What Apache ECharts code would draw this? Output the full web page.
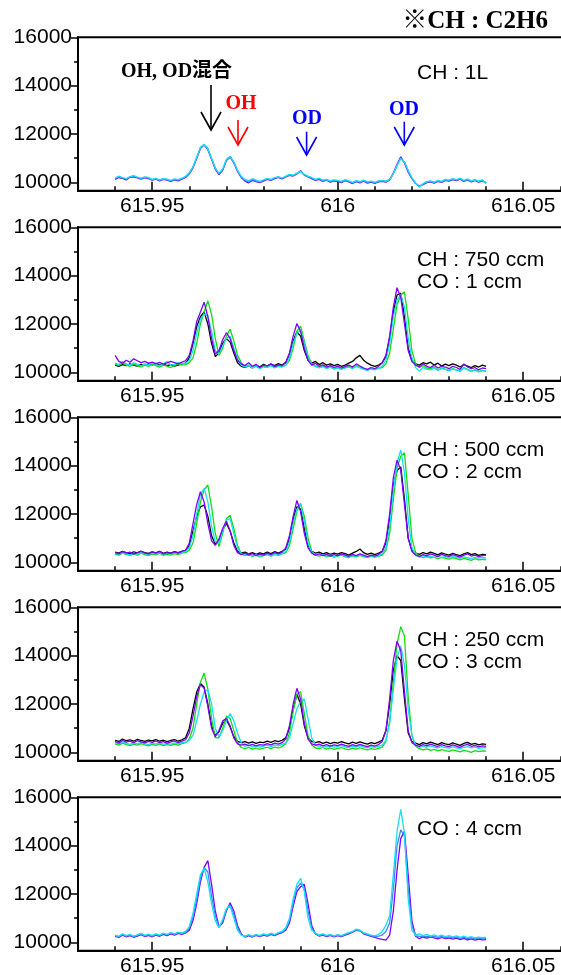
<!DOCTYPE html>
<html>
<head>
<meta charset="utf-8">
<title>OH / OD spectra</title>
<script src="https://cdn.jsdelivr.net/npm/echarts@6.0.0/dist/echarts.min.js"></script>
<style>
  html, body { margin: 0; padding: 0; background: #fff; }
  #chart { width: 561px; height: 975px; }
</style>
</head>
<body>
<div id="chart"></div>
<script>
// sampling grid of the spectra: 615.940 ... 616.040, step 0.001
const xStart = 615.94;
const xStep = 0.001;
const xCount = 101;

// tick labels
const xTickMinor = [615.94, 615.95, 615.96, 615.97, 615.98, 615.99, 616, 616.01, 616.02, 616.03, 616.04, 616.05, 616.06];
const xTickMajor = [615.95, 616, 616.05];
const yTickMinor = [11000, 13000, 15000];
const yTickMajor = [10000, 12000, 14000, 16000];

/*************** panel 1 : CH 1L ***************/
const p1Purple = [
  10120, 10200, 10160, 10100, 10210, 10230, 10180, 10130, 10190, 10150,
  10090, 10130, 10060, 10120, 10090, 10040, 10100, 10060, 10130, 10200,
  10350, 10600, 11000, 11400, 11550, 11350, 10950, 10550, 10320, 10500,
  10900, 11050, 10800, 10450, 10200, 10050, 9980, 10080, 10030, 9990,
  10050, 10120, 10080, 10150, 10200, 10140, 10220, 10290, 10260, 10350,
  10480, 10300, 10220, 10150, 10080, 10120, 10040, 10090, 10010, 10060,
  10040, 9990, 10070, 10020, 9950, 10030, 9980, 10050, 9970, 10010,
  9960, 10020, 10040, 10010, 10100, 10380, 10750, 11060, 10800, 10420,
  10150, 9950, 9850, 9900, 9990, 10020, 9970, 10040, 10000, 10080,
  10050, 10110, 10070, 10130, 10040, 10100, 10020, 10080, 10010, 10060,
  9980
];
const p1Blue = [
  10150, 10230, 10180, 10130, 10220, 10260, 10200, 10150, 10210, 10180,
  10100, 10150, 10080, 10140, 10110, 10060, 10120, 10090, 10150, 10230,
  10380, 10620, 11020, 11420, 11560, 11380, 10980, 10580, 10350, 10520,
  10920, 11060, 10830, 10480, 10230, 10090, 10020, 10120, 10060, 10010,
  10080, 10140, 10100, 10170, 10220, 10160, 10240, 10310, 10280, 10360,
  10460, 10310, 10240, 10180, 10100, 10150, 10060, 10100, 10040, 10080,
  10060, 10010, 10090, 10040, 9980, 10050, 10000, 10070, 10000, 10030,
  9980, 10040, 10060, 10030, 10110, 10360, 10720, 11010, 10820, 10460,
  10170, 9960, 9830, 9920, 10010, 10040, 9990, 10060, 10020, 10100,
  10070, 10130, 10090, 10150, 10060, 10120, 10040, 10090, 10030, 10080,
  9970
];
const p1Cyan = [
  10180, 10260, 10200, 10150, 10240, 10280, 10220, 10170, 10230, 10200,
  10120, 10160, 10100, 10150, 10130, 10080, 10140, 10110, 10170, 10250,
  10400, 10650, 11050, 11450, 11580, 11400, 11000, 10600, 10380, 10550,
  10950, 11080, 10850, 10500, 10250, 10120, 10060, 10150, 10090, 10040,
  10100, 10160, 10120, 10200, 10240, 10180, 10260, 10330, 10300, 10380,
  10440, 10330, 10260, 10200, 10120, 10170, 10090, 10120, 10060, 10100,
  10080, 10040, 10110, 10060, 10000, 10070, 10030, 10090, 10020, 10050,
  10000, 10060, 10080, 10050, 10120, 10350, 10700, 10980, 10850, 10500,
  10200, 9980, 9800, 9950, 10030, 10060, 10010, 10080, 10040, 10120,
  10090, 10150, 10110, 10170, 10080, 10140, 10060, 10110, 10050, 10100,
  9950
];

/*************** panel 2 : CH 750 ccm, CO 1 ccm ***************/
const p2Black = [
  10300, 10250, 10320, 10280, 10350, 10300, 10260, 10330, 10290, 10350,
  10310, 10370, 10300, 10340, 10280, 10320, 10260, 10300, 10350, 10380,
  10600, 11200, 11900, 12300, 12500, 12000, 11200, 10650, 10800, 11200,
  11400, 11250, 10800, 10400, 10250, 10200, 10280, 10180, 10300, 10220,
  10330, 10260, 10340, 10280, 10360, 10300, 10420, 10750, 11300, 11680,
  11500, 10900, 10500, 10380, 10450, 10320, 10400, 10300, 10350, 10280,
  10330, 10250, 10300, 10380, 10450, 10600, 10700, 10500, 10380, 10300,
  10250, 10300, 10400, 10650, 11400, 12500, 13200, 13270, 12300, 11000,
  10500, 10350, 10300, 10400, 10350, 10420, 10300, 10380, 10260, 10340,
  10280, 10350, 10300, 10220, 10320, 10260, 10200, 10280, 10220, 10300,
  10250
];
const p2Green = [
  10350, 10280, 10400, 10300, 10250, 10350, 10280, 10220, 10300, 10250,
  10330, 10280, 10220, 10300, 10260, 10200, 10280, 10350, 10300, 10320,
  10400, 10600, 11200, 12000, 12500, 12960, 12400, 11400, 10700, 11000,
  11500, 11780, 11300, 10700, 10400, 10250, 10300, 10200, 10280, 10150,
  10250, 10220, 10300, 10200, 10280, 10230, 10300, 10500, 11000, 11700,
  11910, 11300, 10700, 10350, 10280, 10200, 10260, 10170, 10230, 10150,
  10200, 10130, 10190, 10250, 10180, 10280, 10200, 10150, 10100, 10160,
  10120, 10180, 10200, 10350, 10800, 11800, 12800, 13200, 13330, 12200,
  10900, 10350, 10200, 10280, 10180, 10150, 10220, 10100, 10170, 10130,
  10080, 10150, 10100, 10060, 10200, 10120, 10050, 10110, 10030, 10080,
  10050
];
const p2Cyan = [
  10380, 10320, 10450, 10350, 10300, 10400, 10330, 10270, 10350, 10300,
  10380, 10320, 10270, 10350, 10450, 10300, 10330, 10400, 10350, 10380,
  10500, 10900, 11600, 12200, 12400, 12350, 11700, 10900, 10750, 11100,
  11400, 11500, 11000, 10550, 10300, 10220, 10280, 10180, 10260, 10150,
  10230, 10200, 10280, 10180, 10250, 10220, 10300, 10600, 11200, 11600,
  11750, 11200, 10600, 10300, 10250, 10180, 10240, 10150, 10220, 10130,
  10180, 10120, 10180, 10220, 10150, 10250, 10180, 10120, 10080, 10140,
  10100, 10160, 10250, 10500, 11200, 12300, 13000, 13200, 12700, 11400,
  10600, 10200, 10050, 10200, 10130, 10100, 10180, 10080, 10150, 10120,
  10060, 10140, 10090, 10050, 10180, 10100, 10040, 10090, 10020, 10070,
  10050
];
const p2Purple = [
  10700, 10450, 10380, 10500, 10420, 10560, 10480, 10400, 10450, 10380,
  10420, 10360, 10410, 10340, 10390, 10450, 10400, 10350, 10420, 10480,
  10700, 11300, 12100, 12500, 12900, 12300, 11400, 10750, 10900, 11350,
  11640, 11400, 10900, 10500, 10350, 10280, 10400, 10250, 10330, 10200,
  10300, 10270, 10350, 10240, 10310, 10280, 10400, 10800, 11500, 12020,
  11700, 11000, 10500, 10300, 10380, 10250, 10310, 10220, 10280, 10200,
  10260, 10180, 10240, 10300, 10220, 10350, 10260, 10180, 10120, 10200,
  10150, 10250, 10400, 10700, 11500, 12700, 13500, 13100, 12000, 10900,
  10450, 10300, 10220, 10350, 10250, 10200, 10300, 10180, 10250, 10220,
  10150, 10250, 10200, 10120, 10350, 10220, 10150, 10200, 10100, 10180,
  10150
];

/*************** panel 3 : CH 500 ccm, CO 2 ccm ***************/
const p3Black = [
  10420, 10380, 10450, 10400, 10360, 10430, 10390, 10450, 10400, 10370,
  10430, 10390, 10460, 10370, 10420, 10380, 10440, 10400, 10450, 10500,
  10700, 11300, 11900, 12300, 12370, 11900, 11100, 10750, 10950, 11350,
  11610, 11300, 10800, 10450, 10380, 10420, 10350, 10400, 10330, 10390,
  10350, 10420, 10360, 10440, 10380, 10450, 10550, 11000, 11800, 12300,
  12200, 11400, 10700, 10450, 10380, 10420, 10350, 10400, 10330, 10380,
  10340, 10400, 10360, 10300, 10380, 10450, 10550, 10400, 10330, 10380,
  10320, 10380, 10450, 10800, 11800, 13200, 13800, 13950, 12600, 11000,
  10500, 10380, 10330, 10400, 10350, 10420, 10370, 10310, 10390, 10340,
  10300, 10370, 10320, 10280, 10350, 10400, 10320, 10360, 10290, 10330,
  10320
];
const p3Green = [
  10350, 10300, 10380, 10330, 10290, 10350, 10300, 10380, 10320, 10280,
  10350, 10310, 10380, 10290, 10340, 10300, 10360, 10320, 10380, 10400,
  10500, 10800, 11600, 12500, 13000, 13200, 12300, 11200, 10650, 11200,
  11800, 11950, 11400, 10700, 10350, 10280, 10320, 10250, 10300, 10230,
  10280, 10320, 10260, 10330, 10290, 10350, 10400, 10700, 11400, 12100,
  12440, 11900, 11000, 10450, 10300, 10260, 10300, 10230, 10280, 10220,
  10260, 10300, 10240, 10200, 10270, 10230, 10290, 10240, 10200, 10250,
  10220, 10260, 10300, 10500, 11200, 12600, 13900, 14400, 14530, 12800,
  11000, 10400, 10250, 10200, 10240, 10180, 10220, 10150, 10200, 10170,
  10130, 10190, 10150, 10100, 10160, 10120, 10080, 10150, 10100, 10120,
  10100
];
const p3Cyan = [
  10380, 10330, 10400, 10350, 10310, 10380, 10340, 10400, 10360, 10320,
  10390, 10350, 10410, 10330, 10380, 10340, 10400, 10360, 10420, 10450,
  10600, 11100, 12000, 12800, 13060, 12500, 11500, 10850, 10800, 11300,
  11750, 11800, 11200, 10600, 10350, 10300, 10340, 10270, 10320, 10260,
  10300, 10340, 10280, 10350, 10310, 10370, 10450, 10850, 11600, 12200,
  12400, 11700, 10800, 10400, 10320, 10280, 10320, 10260, 10300, 10240,
  10280, 10320, 10260, 10220, 10290, 10250, 10310, 10260, 10220, 10270,
  10240, 10280, 10350, 10600, 11500, 13000, 14100, 14650, 13700, 11800,
  10600, 10300, 10220, 10280, 10230, 10260, 10200, 10250, 10210, 10240,
  10200, 10250, 10210, 10170, 10230, 10190, 10150, 10210, 10170, 10200,
  10180
];
const p3Purple = [
  10400, 10350, 10450, 10380, 10420, 10340, 10400, 10460, 10380, 10350,
  10420, 10380, 10450, 10350, 10400, 10370, 10430, 10380, 10450, 10500,
  10800, 11600, 12400, 12920, 12500, 11600, 10900, 10700, 10950, 11400,
  11700, 11300, 10700, 10400, 10320, 10380, 10300, 10360, 10280, 10340,
  10300, 10380, 10320, 10400, 10350, 10420, 10600, 11100, 11900, 12560,
  12100, 11200, 10600, 10380, 10300, 10350, 10280, 10330, 10260, 10320,
  10280, 10350, 10300, 10250, 10330, 10280, 10350, 10300, 10240, 10300,
  10260, 10320, 10450, 10900, 12000, 13500, 14230, 13800, 12400, 11000,
  10450, 10300, 10250, 10320, 10270, 10350, 10300, 10240, 10330, 10280,
  10250, 10320, 10270, 10220, 10300, 10350, 10260, 10300, 10240, 10280,
  10300
];

/*************** panel 4 : CH 250 ccm, CO 3 ccm ***************/
const p4Black = [
  10500, 10450, 10550, 10480, 10520, 10460, 10540, 10490, 10450, 10510,
  10470, 10530, 10460, 10500, 10440, 10490, 10530, 10460, 10520, 10600,
  11000, 11800, 12500, 12850, 12700, 12000, 11100, 10700, 10850, 11200,
  11350, 11050, 10650, 10450, 10400, 10440, 10380, 10430, 10370, 10420,
  10400, 10460, 10410, 10480, 10440, 10500, 10600, 11000, 11800, 12400,
  12000, 11100, 10600, 10450, 10400, 10440, 10370, 10420, 10360, 10410,
  10380, 10440, 10390, 10350, 10420, 10370, 10430, 10380, 10340, 10400,
  10360, 10420, 10500, 10900, 12000, 13400, 14000, 13800, 12200, 10800,
  10450, 10380, 10320, 10400, 10350, 10420, 10370, 10320, 10400, 10350,
  10320, 10390, 10340, 10290, 10370, 10410, 10330, 10370, 10310, 10350,
  10330
];
const p4Green = [
  10350, 10300, 10380, 10320, 10280, 10340, 10300, 10360, 10310, 10270,
  10330, 10290, 10350, 10280, 10320, 10290, 10340, 10300, 10360, 10400,
  10550, 11000, 12000, 12900, 13280, 12600, 11400, 10600, 10600, 11000,
  11500, 11400, 10900, 10400, 10200, 10150, 10200, 10130, 10180, 10120,
  10170, 10210, 10150, 10220, 10180, 10240, 10350, 10800, 11700, 12400,
  12500, 11600, 10700, 10300, 10180, 10150, 10200, 10130, 10180, 10120,
  10160, 10200, 10140, 10110, 10170, 10130, 10190, 10140, 10100, 10150,
  10120, 10160, 10220, 10450, 11300, 12900, 14500, 15200, 14800, 12300,
  10700, 10250, 10150, 10100, 10140, 10080, 10120, 10060, 10110, 10070,
  10040, 10100, 10060, 10020, 10080, 10050, 10000, 10070, 10030, 10060,
  10050
];
const p4Cyan = [
  10400, 10350, 10430, 10370, 10330, 10390, 10350, 10410, 10360, 10320,
  10380, 10340, 10400, 10330, 10370, 10340, 10390, 10350, 10400, 10420,
  10500, 10700, 11300, 12000, 12500, 12600, 12000, 11000, 10650, 10900,
  11300, 11600, 11300, 10800, 10400, 10250, 10300, 10230, 10280, 10220,
  10260, 10300, 10240, 10310, 10270, 10330, 10380, 10600, 11200, 11800,
  12100, 12200, 11400, 10600, 10300, 10250, 10290, 10220, 10270, 10210,
  10250, 10290, 10230, 10200, 10260, 10220, 10280, 10230, 10190, 10240,
  10210, 10250, 10300, 10500, 11200, 12600, 13900, 14400, 13600, 11800,
  10700, 10300, 10200, 10250, 10210, 10270, 10220, 10180, 10240, 10200,
  10170, 10230, 10190, 10150, 10210, 10240, 10180, 10220, 10160, 10200,
  10190
];
const p4Purple = [
  10450, 10380, 10500, 10420, 10460, 10400, 10480, 10430, 10390, 10450,
  10410, 10470, 10400, 10440, 10380, 10430, 10470, 10400, 10460, 10520,
  10800, 11500, 12300, 12800, 12650, 11900, 11000, 10650, 10900, 11300,
  11400, 11100, 10600, 10350, 10300, 10340, 10280, 10330, 10270, 10320,
  10300, 10360, 10310, 10380, 10340, 10400, 10550, 11100, 12000, 12650,
  12200, 11200, 10550, 10350, 10300, 10340, 10270, 10320, 10260, 10310,
  10280, 10340, 10290, 10250, 10320, 10270, 10330, 10280, 10240, 10300,
  10260, 10320, 10450, 10900, 12200, 13800, 14600, 14200, 12500, 10900,
  10400, 10300, 10250, 10320, 10270, 10340, 10290, 10240, 10320, 10270,
  10240, 10310, 10260, 10210, 10290, 10330, 10250, 10290, 10230, 10270,
  10250
];

/*************** panel 5 : CO 4 ccm ***************/
const p5Purple = [
  10250, 10200, 10300, 10230, 10280, 10210, 10260, 10320, 10240, 10290,
  10230, 10300, 10250, 10330, 10280, 10350, 10300, 10370, 10330, 10390,
  10500, 10900, 11600, 12500, 13100, 13380, 12400, 11300, 10650, 10800,
  11300, 11640, 11300, 10700, 10350, 10220, 10280, 10220, 10290, 10240,
  10300, 10260, 10330, 10280, 10350, 10400, 10500, 10800, 11500, 12100,
  12300, 12400, 11600, 10700, 10350, 10260, 10300, 10240, 10290, 10230,
  10280, 10240, 10300, 10350, 10420, 10500, 10480, 10350, 10300, 10250,
  10200, 10150, 10120, 10090, 10300, 11300, 13000, 14300, 14580, 12800,
  10900, 10250, 10150, 10220, 10170, 10230, 10180, 10140, 10200, 10150,
  10180, 10130, 10170, 10110, 10160, 10100, 10140, 10090, 10130, 10100,
  10110
];
const p5Blue = [
  10280, 10230, 10330, 10260, 10310, 10240, 10290, 10350, 10270, 10320,
  10260, 10330, 10280, 10360, 10310, 10380, 10330, 10400, 10360, 10420,
  10580, 11050, 11800, 12650, 13100, 12900, 11900, 11100, 10620, 10880,
  11350, 11560, 11150, 10600, 10320, 10240, 10300, 10240, 10310, 10260,
  10330, 10280, 10350, 10300, 10380, 10420, 10550, 10900, 11650, 12250,
  12450, 12200, 11300, 10600, 10360, 10280, 10330, 10260, 10310, 10250,
  10300, 10260, 10320, 10380, 10430, 10520, 10490, 10380, 10320, 10280,
  10240, 10260, 10300, 10450, 10800, 12200, 14000, 14650, 14400, 12200,
  10700, 10280, 10250, 10250, 10250, 10240, 10250, 10200, 10250, 10190,
  10230, 10180, 10220, 10160, 10210, 10150, 10190, 10140, 10180, 10150,
  10160
];
const p5Cyan = [
  10300, 10250, 10350, 10280, 10330, 10260, 10310, 10370, 10290, 10340,
  10280, 10350, 10300, 10380, 10330, 10400, 10350, 10420, 10380, 10450,
  10650, 11200, 12000, 12800, 13060, 12500, 11600, 10900, 10600, 10950,
  11400, 11500, 11000, 10500, 10300, 10250, 10320, 10260, 10330, 10280,
  10350, 10300, 10380, 10320, 10400, 10450, 10600, 11000, 11800, 12400,
  12650, 12100, 11000, 10500, 10380, 10300, 10350, 10280, 10330, 10270,
  10320, 10280, 10350, 10400, 10450, 10550, 10500, 10400, 10350, 10300,
  10270, 10330, 10450, 10700, 11100, 12800, 14600, 15500, 14500, 11800,
  10500, 10300, 10350, 10280, 10330, 10260, 10310, 10250, 10300, 10240,
  10280, 10230, 10270, 10210, 10260, 10200, 10240, 10180, 10220, 10190,
  10200
];

// colours
const BLACK = '#000000';
const GREEN = '#12dc12';
const CYAN = '#14e0f2';
const BLUE = '#3a86ff';
const PURPLE = '#8000ff';

const panels = [
  {notes: ['CH : 1L'], noteY: [36], lines: [[PURPLE, p1Purple], [BLUE, p1Blue], [CYAN, p1Cyan]]},
  {notes: ['CH : 750 ccm', 'CO : 1 ccm'], noteY: [33, 55], lines: [[BLACK, p2Black], [GREEN, p2Green], [CYAN, p2Cyan], [PURPLE, p2Purple]]},
  {notes: ['CH : 500 ccm', 'CO : 2 ccm'], noteY: [33, 55], lines: [[BLACK, p3Black], [GREEN, p3Green], [CYAN, p3Cyan], [PURPLE, p3Purple]]},
  {notes: ['CH : 250 ccm', 'CO : 3 ccm'], noteY: [33, 55], lines: [[BLACK, p4Black], [GREEN, p4Green], [CYAN, p4Cyan], [PURPLE, p4Purple]]},
  {notes: ['CO : 4 ccm'], noteY: [32], lines: [[PURPLE, p5Purple], [BLUE, p5Blue], [CYAN, p5Cyan]]}
];

const xs = [];
for (let i = 0; i < xCount; i++) {
  xs.push(+(xStart + i * xStep).toFixed(3));
}

const SANS = '"Liberation Sans", Arial, sans-serif';
const SERIF = '"Liberation Serif", "Times New Roman", "Noto Sans CJK JP", serif';
const panelTop = 37.3;
const panelStep = 190;
const panelHeight = 153.5;
const axisLine = {show: true, onZero: false, lineStyle: {color: '#000', width: 2}};

const chart = echarts.init(document.getElementById('chart'), null, {renderer: 'canvas'});

let option = {
  animation: false,
  backgroundColor: '#fff',
  grid: [],
  xAxis: [],
  yAxis: [],
  series: [],
  graphic: []
};

panels.forEach((p, k) => {
  const top = panelTop + panelStep * k;
  // the frame runs past the right edge of the picture
  option.grid.push({
    left: 78, top: top, width: 519.4, height: panelHeight,
    outerBoundsMode: 'none', containLabel: false,
    show: true, borderColor: '#000', borderWidth: 2
  });
  // bottom axis: short ticks every 0.01
  option.xAxis.push({
    type: 'value', gridIndex: k, position: 'bottom', min: 615.93, max: 616.07,
    axisLine: axisLine,
    axisTick: {show: true, inside: true, length: 4.5, customValues: xTickMinor, lineStyle: {color: '#000', width: 1.5}},
    axisLabel: {show: false},
    splitLine: {show: false}
  });
  // same axis: long ticks and labels
  option.xAxis.push({
    type: 'value', gridIndex: k, position: 'bottom', min: 615.93, max: 616.07,
    axisLine: {show: false},
    axisTick: {show: true, inside: true, length: 9, customValues: xTickMajor, lineStyle: {color: '#000', width: 1.5}},
    axisLabel: {
      show: true, customValues: xTickMajor, margin: 5,
      color: '#000', fontSize: 21, fontFamily: SANS,
      formatter: v => String(+(+v).toFixed(2))
    },
    splitLine: {show: false}
  });
  option.yAxis.push({
    type: 'value', gridIndex: k, position: 'left', min: 9650, max: 16000,
    axisLine: axisLine,
    axisTick: {show: true, inside: false, length: 4, customValues: yTickMinor, lineStyle: {color: '#000', width: 1.5}},
    axisLabel: {show: false},
    splitLine: {show: false}
  });
  option.yAxis.push({
    type: 'value', gridIndex: k, position: 'left', min: 9650, max: 16000,
    axisLine: {show: false},
    axisTick: {show: true, inside: false, length: 7, customValues: yTickMajor, lineStyle: {color: '#000', width: 1.5}},
    axisLabel: {
      show: true, customValues: yTickMajor, margin: 6,
      color: '#000', fontSize: 21, fontFamily: SANS,
      formatter: v => String(Math.round(v))
    },
    splitLine: {show: false}
  });

  p.lines.forEach(([color, vals]) => {
    option.series.push({
      type: 'line',
      xAxisIndex: 2 * k,
      yAxisIndex: 2 * k,
      data: xs.map((x, i) => [x, vals[i]]),
      showSymbol: false,
      symbol: 'none',
      lineStyle: {color: color, width: 1.3},
      itemStyle: {color: color}
    });
  });

  p.notes.forEach((t, j) => {
    option.graphic.push({
      type: 'text', x: 417, y: top + p.noteY[j],
      style: {text: t, font: '21px ' + SANS, fill: '#000', verticalAlign: 'middle'}
    });
  });
});

// title and peak annotations (panel 1)
function arrow(x, y0, y1, color) {
  return [
    {type: 'line', shape: {x1: x, y1: y0, x2: x, y2: y1}, style: {stroke: color, lineWidth: 1.6}},
    {type: 'polyline', shape: {points: [[x - 10, y1 - 18], [x, y1], [x + 10, y1 - 18]]}, style: {stroke: color, lineWidth: 1.6, fill: null}}
  ];
}
option.graphic.push(
  {type: 'text', x: 548, y: 22, style: {text: '※CH : C2H6', font: 'bold 25px ' + SERIF, fill: '#000', align: 'right', verticalAlign: 'middle'}},
  {type: 'text', x: 121, y: 72, style: {text: 'OH, OD混合', font: 'bold 20px ' + SERIF, fill: '#000', verticalAlign: 'middle'}},
  {type: 'text', x: 241, y: 104, style: {text: 'OH', font: 'bold 20px ' + SERIF, fill: '#ff0000', align: 'center', verticalAlign: 'middle'}},
  {type: 'text', x: 307, y: 119, style: {text: 'OD', font: 'bold 20px ' + SERIF, fill: '#0000ff', align: 'center', verticalAlign: 'middle'}},
  {type: 'text', x: 404, y: 110, style: {text: 'OD', font: 'bold 20px ' + SERIF, fill: '#0000ff', align: 'center', verticalAlign: 'middle'}},
  ...arrow(211, 85, 130, '#000'),
  ...arrow(238, 120, 145, '#ff0000'),
  ...arrow(306.6, 131.7, 155, '#0000ff'),
  ...arrow(404.3, 121.7, 145, '#0000ff')
);

chart.setOption(option);
</script>
</body>
</html>
